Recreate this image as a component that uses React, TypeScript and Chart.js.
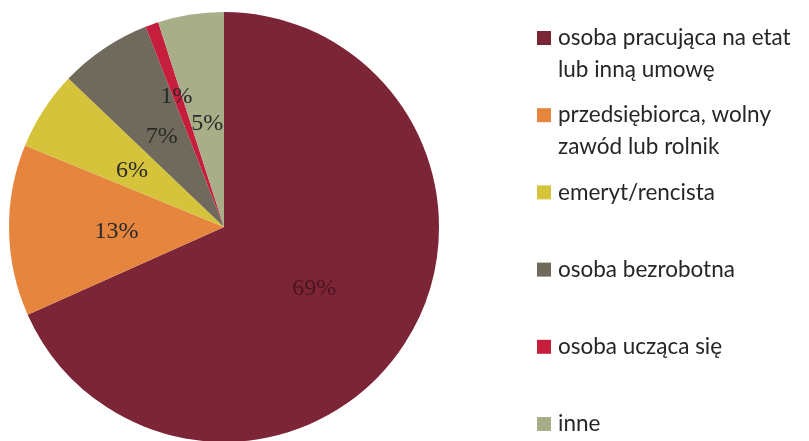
import React, { useEffect, useRef } from "react";
import { Chart, registerables } from "chart.js";

Chart.register(...registerables);

const categories: string[][] = [
  ["osoba pracująca na etat", "lub inną umowę"],
  ["przedsiębiorca, wolny", "zawód lub rolnik"],
  ["emeryt/rencista"],
  ["osoba bezrobotna"],
  ["osoba ucząca się"],
  ["inne"],
];
const values: number[] = [69, 13, 6, 7, 1, 5];
const percentLabels: string[] = ["69%", "13%", "6%", "7%", "1%", "5%"];
const colors: string[] = ["#7b2536", "#e6853d", "#d6c33c", "#6f6a5b", "#c61f3e", "#a8ae88"];

const labelRadiusFrac = [0.5, 0.5, 0.51, 0.52, 0.66, 0.5];
const labelColors = ["#4a1420", "#2a2a2a", "#2a2a2a", "#2a2a2a", "#2a2a2a", "#2a2a2a"];

const W = 801;
const H = 441;

const overlayPlugin = {
  id: "overlay",
  afterDraw(chart: any) {
    const ctx = chart.ctx as CanvasRenderingContext2D;
    const meta = chart.getDatasetMeta(0);
    ctx.save();
    // slice labels
    ctx.font = '24px "Liberation Serif", "Times New Roman", serif';
    ctx.textAlign = "center";
    ctx.textBaseline = "middle";
    meta.data.forEach((arc: any, i: number) => {
      const p = arc.getProps(["x", "y", "startAngle", "endAngle", "outerRadius"], true);
      const mid = (p.startAngle + p.endAngle) / 2;
      const r = p.outerRadius * labelRadiusFrac[i];
      ctx.fillStyle = labelColors[i];
      ctx.fillText(percentLabels[i], p.x + Math.cos(mid) * r, p.y + Math.sin(mid) * r + 3);
    });
    // legend
    const sqX = 529;
    const txtX = 550;
    const startY = 30;
    const step = 77.2;
    const lineH = 32;
    const sq = 14;
    ctx.font = '22.5px Lato, "Open Sans", sans-serif';
    ctx.textAlign = "left";
    ctx.textBaseline = "middle";
    categories.forEach((lines, i) => {
      const y = startY + i * step;
      ctx.fillStyle = colors[i];
      ctx.fillRect(sqX, y - sq / 2, sq, sq);
      ctx.fillStyle = "#262626";
      lines.forEach((t, j) => ctx.fillText(t, txtX, y + j * lineH));
    });
    ctx.restore();
  },
};

export default function App() {
  const ref = useRef<HTMLCanvasElement>(null);
  useEffect(() => {
    if (!ref.current) return;
    const chart = new Chart(ref.current, {
      type: "pie",
      data: {
        labels: categories.map((c) => c.join(" ")),
        datasets: [
          {
            data: values,
            backgroundColor: colors,
            borderWidth: 0,
          },
        ],
      },
      options: {
        responsive: false,
        animation: false,
        devicePixelRatio: 1,
        layout: { padding: { left: 1, top: 4, right: W - 431, bottom: H - 434 } },
        plugins: {
          legend: { display: false },
          tooltip: { enabled: false },
        },
      },
      plugins: [overlayPlugin],
    });
    return () => chart.destroy();
  }, []);
  return <canvas ref={ref} width={W} height={H} style={{ display: "block" }} />;
}
